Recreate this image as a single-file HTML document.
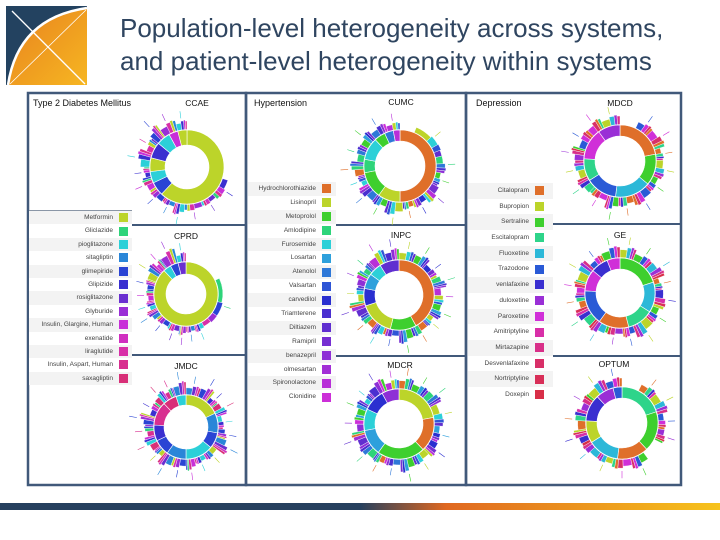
<!DOCTYPE html>
<html><head><meta charset="utf-8"><style>
body{margin:0;background:#fff;}
#wrap{position:relative;width:720px;height:540px;overflow:hidden;font-family:"Liberation Sans",sans-serif;}
.t{position:absolute;left:120px;font-size:26px;color:#2f4560;white-space:nowrap;}
.ptitle{position:absolute;font-size:9px;color:#111;}
.ctitle{position:absolute;font-size:8.5px;color:#111;transform:translateX(-50%);}
.leg{position:absolute;background:#fff;}
.row{position:relative;font-size:6.5px;color:#444;text-align:right;}
.row span.sw{position:absolute;top:50%;width:9px;height:9px;margin-top:-4.5px;}
</style></head><body>
<div id="wrap">
<svg width="720" height="540" style="position:absolute;left:0;top:0">
 <defs>
  <linearGradient id="lg" x1="0" y1="0" x2="1" y2="1"><stop offset="0" stop-color="#e8821e"/><stop offset="1" stop-color="#f6b622"/></linearGradient>
  <linearGradient id="bar" x1="0" y1="0" x2="1" y2="0"><stop offset="0" stop-color="#26405e"/><stop offset="0.5" stop-color="#26405e"/><stop offset="0.62" stop-color="#e06820"/><stop offset="1" stop-color="#f7c31c"/></linearGradient>
 </defs>
 <g>
  <rect x="6" y="6" width="81" height="79" fill="#234260"/>
  <path d="M8 85 Q18 18 87 8 L87 85 Z" fill="url(#lg)"/>
  <path d="M8 85 Q18 18 87 8" stroke="#fff" stroke-width="2.5" fill="none"/>
  <line x1="12" y1="11" x2="85" y2="84" stroke="#fff" stroke-width="1.3"/>
  <line x1="10" y1="84" x2="86" y2="10" stroke="#fff" stroke-width="0.8"/>
 </g>
 <rect x="0" y="503" width="720" height="7" fill="url(#bar)"/>
 <g fill="none" stroke="#41597a" stroke-width="2.5">
  <rect x="28" y="93" width="218" height="392"/>
  <rect x="246" y="93" width="220" height="392"/>
  <rect x="466" y="93" width="215" height="392"/>
  <line x1="132" y1="225" x2="245" y2="225" stroke-width="2"/>
  <line x1="132" y1="355" x2="245" y2="355" stroke-width="2"/>
  <line x1="336" y1="225" x2="466" y2="225" stroke-width="2"/>
  <line x1="336" y1="356" x2="466" y2="356" stroke-width="2"/>
  <line x1="553" y1="224" x2="681" y2="224" stroke-width="2"/>
  <line x1="553" y1="356" x2="681" y2="356" stroke-width="2"/>
 </g>
 <g id="charts"></g>
</svg>
<div class="t" style="top:13px">Population-level heterogeneity across systems,</div>
<div class="t" style="top:46px">and patient-level heterogeneity within systems</div>

<div class="ptitle" style="left:33px;top:98px">Type 2 Diabetes Mellitus</div>
<div class="ptitle" style="left:254px;top:98px">Hypertension</div>
<div class="ptitle" style="left:476px;top:98px">Depression</div>

<div class="ctitle" style="left:197px;top:98px">CCAE</div>
<div class="ctitle" style="left:186px;top:231px">CPRD</div>
<div class="ctitle" style="left:186px;top:361px">JMDC</div>
<div class="ctitle" style="left:401px;top:97px">CUMC</div>
<div class="ctitle" style="left:401px;top:230px">INPC</div>
<div class="ctitle" style="left:400px;top:360px">MDCR</div>
<div class="ctitle" style="left:620px;top:98px">MDCD</div>
<div class="ctitle" style="left:620px;top:230px">GE</div>
<div class="ctitle" style="left:614px;top:359px">OPTUM</div>

<div id="legs"></div>
</div>
<script>
const palD=["#bcd42a","#2ed47a","#2cd0d8","#2a86d8","#2a44d4","#3a2fd0","#6a2fd0","#9a2fd6","#c82fd8","#d02fc0","#d82fa8","#d82f90","#d82f78"];
const palH=["#df6f2a","#bcd42a","#3ecf2e","#2ed47a","#2cd0d8","#2ea0dc","#2e78d8","#2e55d6","#2a2fd0","#4a2fd0","#602fd0","#762fd2","#8e2fd6","#a22fd6","#b82fd8","#cc2fd8"];
const palP=["#df6f2a","#bcd42a","#3ecf2e","#2ed48a","#2cb8d8","#2a5ad6","#3a2fd0","#9a2fd6","#d02fd8","#d82fa8","#d82f88","#d82f68","#d82f58","#d82f48"];

const diabetesNames=["Metformin","Gliclazide","pioglitazone","sitagliptin","glimepiride","Glipizide","rosiglitazone","Glyburide","Insulin, Glargine, Human","exenatide","liraglutide","Insulin, Aspart, Human","saxagliptin"];
const hyperNames=["Hydrochlorothiazide","Lisinopril","Metoprolol","Amlodipine","Furosemide","Losartan","Atenolol","Valsartan","carvedilol","Triamterene","Diltiazem","Ramipril","benazepril","olmesartan","Spironolactone","Clonidine"];
const depNames=["Citalopram","Bupropion","Sertraline","Escitalopram","Fluoxetine","Trazodone","venlafaxine","duloxetine","Paroxetine","Amitriptyline","Mirtazapine","Desvenlafaxine","Nortriptyline","Doxepin"];

const ccaeInnerV=[62,6,5,6,7,6,4,4];      const ccaeInnerC=[0,4,2,0,5,2,8,0];
const ccaeOuterV=[30,8,6,7,4,5,6,5,4,6,5,4,6,4];  const ccaeOuterC=[-1,5,6,7,2,3,4,8,5,2,10,4,7,2]; const ccaeOuterT=[0,10,8,9,14,8,10,12,9,16,11,18,14,12];
const cprdInnerV=[88,4,4,4];  const cprdInnerC=[0,2,4,6];
const cprdOuterV=[18,24,4,4,3,5,6,4,4,5,4,6,3,6,4];  const cprdOuterC=[-1,1,2,3,7,6,4,3,2,8,4,0,8,7,2]; const cprdOuterT=[0,8,10,9,12,10,9,14,11,10,12,16,14,18,12];
const jmdcInnerV=[18,10,8,14,10,8,8,12,7,5];  const jmdcInnerC=[0,3,4,2,3,4,5,11,12,2];
const jmdcOuterV=[6,5,4,5,6,4,5,6,5,4,6,5,4,6,5,4,6,5,4,5];  const jmdcOuterC=[3,4,5,12,2,4,3,0,2,8,4,3,0,12,11,4,5,12,11,3]; const jmdcOuterT=[12,16,10,14,8,12,18,10,9,14,12,16,10,14,12,18,10,14,12,16];
const cumcInnerV=[50,10,12,6,10,5,4,3];  const cumcInnerC=[0,1,2,3,4,2,6,14];
const cumcOuterV=[6,14,6,5,6,5,4,6,5,6,4,5,6,5,6,5];  const cumcOuterC=[-1,1,3,2,11,8,0,1,2,6,4,0,3,2,6,14]; const cumcOuterT=[0,10,12,9,14,11,10,16,12,14,10,16,12,14,12,10];
const inpcInnerV=[42,12,16,8,7,6,9];  const inpcInnerC=[0,2,1,8,5,4,10];
const inpcOuterV=[6,5,6,4,6,5,4,6,5,6,4,6,5,6,5,4,6,5];  const inpcOuterC=[1,2,8,3,14,2,1,0,2,7,4,0,10,1,12,3,14,9]; const inpcOuterT=[12,14,10,16,12,14,10,12,16,10,14,12,18,10,14,12,16,14];
const mdcrInnerV=[22,16,22,12,10,10,8];  const mdcrInnerC=[1,0,2,5,4,8,12];
const mdcrOuterV=[5,6,5,8,6,5,6,5,6,4,6,5,6,5,4,6,5];  const mdcrOuterC=[0,2,3,1,5,8,1,2,6,0,3,10,12,2,4,9,14]; const mdcrOuterT=[14,12,16,12,10,14,12,16,10,12,14,16,12,14,10,16,12];
const mdcdInnerV=[22,14,16,14,10,14,10];  const mdcdInnerC=[0,2,4,5,3,8,7];
const mdcdOuterV=[6,5,6,4,6,5,6,5,4,6,5,6,4,6,5,6];  const mdcdOuterC=[-1,5,8,0,1,2,5,0,2,8,3,1,7,5,8,1]; const mdcdOuterT=[0,12,14,10,12,10,14,12,16,10,14,12,16,12,14,12];
const geInnerV=[20,14,12,14,16,10,8,6];  const geInnerC=[2,4,3,0,5,8,6,8];
const geOuterV=[5,6,5,4,6,5,6,4,6,5,6,5,4,6,5,6];  const geOuterC=[1,2,4,0,6,2,1,5,7,4,3,0,8,1,5,2]; const geOuterT=[14,12,16,10,14,12,16,12,10,14,16,12,14,16,10,14];
const optumInnerV=[20,18,14,14,10,12,8,4];  const optumInnerC=[3,2,0,4,1,6,7,5];
const optumOuterV=[6,5,6,5,4,6,5,6,5,6,4,6,5,6,5];  const optumOuterC=[-1,0,1,5,7,-1,2,8,1,4,6,0,7,1,5]; const optumOuterT=[0,12,14,10,12,0,14,12,10,12,16,14,12,14,12];

const charts=[
 {n:"ccae",cx:187,cy:167,r0:22,r1:37,iv:ccaeInnerV,ic:ccaeInnerC,ov:ccaeOuterV,oc:ccaeOuterC,ot:ccaeOuterT,p:palD},
 {n:"cprd",cx:186,cy:294,r0:20,r1:32,iv:cprdInnerV,ic:cprdInnerC,ov:cprdOuterV,oc:cprdOuterC,ot:cprdOuterT,p:palD},
 {n:"jmdc",cx:186,cy:427,r0:22,r1:32,iv:jmdcInnerV,ic:jmdcInnerC,ov:jmdcOuterV,oc:jmdcOuterC,ot:jmdcOuterT,p:palD},
 {n:"cumc",cx:400,cy:166,r0:25,r1:36,iv:cumcInnerV,ic:cumcInnerC,ov:cumcOuterV,oc:cumcOuterC,ot:cumcOuterT,p:palH},
 {n:"inpc",cx:399,cy:295,r0:24,r1:35,iv:inpcInnerV,ic:inpcInnerC,ov:inpcOuterV,oc:inpcOuterC,ot:inpcOuterT,p:palH},
 {n:"mdcr",cx:399,cy:424,r0:24,r1:35,iv:mdcrInnerV,ic:mdcrInnerC,ov:mdcrOuterV,oc:mdcrOuterC,ot:mdcrOuterT,p:palH},
 {n:"mdcd",cx:620,cy:161,r0:25,r1:36,iv:mdcdInnerV,ic:mdcdInnerC,ov:mdcdOuterV,oc:mdcdOuterC,ot:mdcdOuterT,p:palP},
 {n:"ge",cx:620,cy:293,r0:24,r1:35,iv:geInnerV,ic:geInnerC,ov:geOuterV,oc:geOuterC,ot:geOuterT,p:palP},
 {n:"optum",cx:622,cy:423,r0:25,r1:36,iv:optumInnerV,ic:optumInnerC,ov:optumOuterV,oc:optumOuterC,ot:optumOuterT,p:palP}
];
const NS="http://www.w3.org/2000/svg";
function arc(cx,cy,ra,rb,a0,a1){
 const p=(r,a)=>[cx+r*Math.sin(a),cy-r*Math.cos(a)];
 const l=(a1-a0)>Math.PI?1:0;
 const [x0,y0]=p(rb,a0),[x1,y1]=p(rb,a1),[x2,y2]=p(ra,a1),[x3,y3]=p(ra,a0);
 return `M${x0} ${y0}A${rb} ${rb} 0 ${l} 1 ${x1} ${y1}L${x2} ${y2}A${ra} ${ra} 0 ${l} 0 ${x3} ${y3}Z`;
}
const root=document.getElementById("charts");
charts.forEach(c=>{
 const g=document.createElementNS(NS,"g");
 
 
 root.appendChild(g);
 let tot=c.iv.reduce((a,b)=>a+b,0),a=0;
 c.iv.forEach((v,i)=>{
  const a1=a+v/tot*2*Math.PI;
  const path=document.createElementNS(NS,"path");
  path.setAttribute("d",arc(c.cx,c.cy,c.r0,c.r1,a,a1));
  path.setAttribute("fill",c.p[c.ic[i]]);path.setAttribute("stroke","#fff");path.setAttribute("stroke-width","0.6");
  
  
  g.appendChild(path);a=a1;
 });
 tot=c.ov.reduce((a,b)=>a+b,0);a=0;
 c.ov.forEach((v,i)=>{
  const a1=a+v/tot*2*Math.PI;
  if(c.oc[i]>=0){
   const parts=[0.45,0.25,0.15,0.15];let b=a;
   parts.forEach((f,k)=>{
    const b1=b+(a1-a)*f;
    const path=document.createElementNS(NS,"path");
    path.setAttribute("d",arc(c.cx,c.cy,c.r1+0.5,c.r1+c.ot[i]*(k==0?0.6:(k==1?0.85:1))-k,b,b1));
    path.setAttribute("fill",c.p[(c.oc[i]+k*3)%c.p.length]);path.setAttribute("stroke","#fff");path.setAttribute("stroke-width","0.4");
    
    
    g.appendChild(path);b=b1;
   });
   const ln=document.createElementNS(NS,"line");
   const am=(a+a1)/2,r=c.r1+c.ot[i]*1.1+6;
   ln.setAttribute("x1",c.cx+(c.r1+c.ot[i])*Math.sin(am));ln.setAttribute("y1",c.cy-(c.r1+c.ot[i])*Math.cos(am));
   ln.setAttribute("x2",c.cx+r*Math.sin(am));ln.setAttribute("y2",c.cy-r*Math.cos(am));
   ln.setAttribute("stroke",c.p[c.oc[i]]);ln.setAttribute("stroke-width","0.6");
   
   
   g.appendChild(ln);
  }
  a=a1;
 });
});
function legend(names,pal,left,top,width,rowH,labelRight,name){
 const d=document.createElement("div");d.className="leg";
 d.style.left=left+"px";d.style.top=top+"px";d.style.width=width+"px";
 
 
 if(name==="diabetes-legend")d.style.borderTop="1px solid #8a96a6";
 names.forEach((nm,i)=>{
  const r=document.createElement("div");r.className="row";
  r.style.height=rowH+"px";r.style.lineHeight=rowH+"px";r.style.paddingRight=(width-labelRight)+"px";
  r.style.background=i%2==0?"#f3f3f3":"#fff";
  
  
  r.textContent=nm;
  const s=document.createElement("span");s.className="sw";s.style.left=(labelRight+6)+"px";s.style.background=pal[i];
  
  
  r.appendChild(s);d.appendChild(r);
 });
 document.getElementById("legs").appendChild(d);
}
legend(diabetesNames,palD,29,210,103,13.4,84,"diabetes-legend");
legend(hyperNames,palH,248,182,88,13.9,68,"hypertension-legend");
legend(depNames,palP,468,183,85,15.7,61,"depression-legend");
</script>
</body></html>
